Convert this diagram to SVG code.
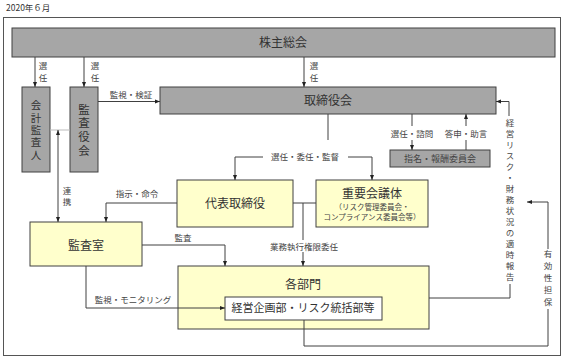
<svg xmlns="http://www.w3.org/2000/svg" width="564" height="358" viewBox="0 0 564 358">
<style>
text{font-family:"Noto Sans CJK JP","Noto Sans",sans-serif;fill:#333}
.gray{fill:#A6A6A6;stroke:#404040;stroke-width:1}
.yel{fill:#FFFFCC;stroke:#404040;stroke-width:1}
.wht{fill:#FFFFFF;stroke:#404040;stroke-width:1}
.big{font-size:12px;text-anchor:middle}
.lbl{font-size:8.5px;text-anchor:middle;fill:#444}
.v{writing-mode:vertical-rl;text-anchor:middle}
.c{fill:none;stroke:#404040;stroke-width:1}
</style>
<defs>
<marker id="ah" viewBox="0 0 10 10" refX="10" refY="5" markerWidth="5" markerHeight="5" markerUnits="userSpaceOnUse" orient="auto-start-reverse"><path d="M0,1 L10,5 L0,9 z" fill="#222"/></marker>
</defs>
<rect x="0" y="0" width="564" height="358" fill="#fff"/>
<text x="6" y="11" font-size="8.5px" fill="#333">2020年６月</text>
<rect x="3.5" y="17.5" width="557" height="338" fill="none" stroke="#555" stroke-width="1"/>

<g id="kabunushi"><rect class="gray" x="12" y="28" width="543" height="29"/><text class="big" x="283" y="47">株主総会</text></g>
<g id="kaikei"><rect class="gray" x="22" y="87" width="28" height="85"/>
<text class="v" x="36" y="131" style="font-size:10.5px;letter-spacing:1.8px">会計監査人</text></g>
<g id="kansayakukai"><rect class="gray" x="70" y="87" width="28" height="85"/>
<text class="v" x="84" y="131" style="font-size:11.5px;letter-spacing:2.2px">監査役会</text></g>
<g id="torishimariyakukai"><rect class="gray" x="160" y="87" width="336" height="27"/><text class="big" x="328" y="105">取締役会</text></g>
<g id="shimei"><rect class="gray" x="390" y="150" width="100" height="17"/><text class="lbl" x="440" y="162" style="font-size:9px">指名・報酬委員会</text></g>
<g id="daihyo"><rect class="yel" x="177" y="180" width="116" height="47"/><text class="big" x="235" y="208">代表取締役</text></g>
<g id="juyo"><rect class="yel" x="316" y="180" width="112" height="47"/><text class="big" x="372" y="198">重要会議体</text>
<text class="lbl" style="font-size:7.5px"><tspan x="372" y="210">（リスク管理委員会・</tspan><tspan x="372" y="219.5">コンプライアンス委員会等）</tspan></text></g>
<g id="kansashitsu"><rect class="yel" x="30" y="222" width="112" height="44"/><text class="big" x="86" y="250">監査室</text></g>
<g id="kakubumon"><rect class="yel" x="178" y="266" width="251" height="63"/><text class="big" x="303" y="289">各部門</text></g>
<g id="keiei"><rect class="wht" x="225" y="297" width="157" height="23"/><text class="big" x="303" y="312" style="font-size:11px">経営企画部・リスク統括部等</text></g>

<g id="connectors">
<path class="c" d="M35,57 V87" marker-end="url(#ah)"/>
<path class="c" d="M84,57 V87" marker-end="url(#ah)"/>
<path class="c" d="M304,57 V87" marker-end="url(#ah)"/>
<path class="c" d="M98,101.5 H160" marker-end="url(#ah)"/>
<path d="M50,130 H70" stroke="#bbb" stroke-width="1" fill="none"/>
<path class="c" d="M58,130 V222" marker-start="url(#ah)" marker-end="url(#ah)"/>
<path class="c" d="M328,114 V140"/>
<path class="c" d="M263,157 H235 V180" marker-end="url(#ah)"/>
<path class="c" d="M348,157 H372 V180" marker-end="url(#ah)"/>
<path class="c" d="M412,114 V126"/>
<path class="c" d="M412,140 V150" marker-end="url(#ah)"/>
<path class="c" d="M466,150 V140"/>
<path class="c" d="M466,126 V114" marker-end="url(#ah)"/>
<path class="c" d="M177,203 H106 V222" marker-end="url(#ah)"/>
<path class="c" d="M293,203 H316"/>
<path class="c" d="M303,203 V240"/>
<path class="c" d="M303,252 V266" marker-end="url(#ah)"/>
<path class="c" d="M142,245 H225 V266" marker-end="url(#ah)"/>
<path class="c" d="M86,266 V308 H225" marker-end="url(#ah)"/>
<path class="c" d="M429,298 H510 V284"/>
<path class="c" d="M509,116 V101.5 H496" marker-end="url(#ah)"/>
<path class="c" d="M304,320 V346 H548 V309"/>
<path class="c" d="M548,249 V202 H527" marker-end="url(#ah)"/>
</g>

<g id="labels">
<text class="lbl v" x="43" y="74" style="letter-spacing:3.5px">選任</text>
<text class="lbl v" x="95" y="74" style="letter-spacing:3.5px">選任</text>
<text class="lbl v" x="314" y="74" style="letter-spacing:3.5px">選任</text>
<text class="lbl" x="131" y="98">監視・検証</text>
<text class="lbl v" x="67" y="198" style="letter-spacing:2.5px">連携</text>
<text class="lbl" x="305" y="160">選任・委任・監督</text>
<text class="lbl" x="412" y="137">選任・諮問</text>
<text class="lbl" x="466" y="137">答申・助言</text>
<text class="lbl" x="137" y="197">指示・命令</text>
<text class="lbl" x="183" y="241">監査</text>
<text class="lbl" x="304" y="250">業務執行権限委任</text>
<text class="lbl" x="133" y="303">監視・モニタリング</text>
<text class="lbl v" x="510" y="201" style="letter-spacing:2.5px">経営リスク・財務状況の適時報告</text>
<text class="lbl v" x="548" y="280" style="letter-spacing:3.5px">有効性担保</text>
</g>
</svg>
